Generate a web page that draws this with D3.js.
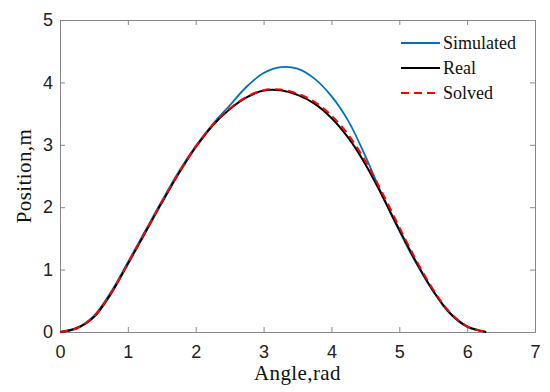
<!DOCTYPE html>
<html>
<head>
<meta charset="utf-8">
<script src="https://cdn.jsdelivr.net/npm/d3@7"></script>
<style>
  body { margin: 0; background: #fff; }
  .tick text { font-family: "Liberation Sans", Arial, sans-serif; font-size: 18px; fill: #222; }
  .serif { font-family: "Palatino Linotype", Palatino, "Book Antiqua", "Liberation Serif", serif; fill: #111; }
</style>
</head>
<body>
<div id="chart"></div>
<script>
// values
const xTicks = [0, 1, 2, 3, 4, 5, 6, 7];
const yTicks = [0, 1, 2, 3, 4, 5];

const angle = [0, 0.25, 0.5, 0.75, 1.0, 1.25, 1.5, 1.75, 2.0, 2.25, 2.5, 2.75, 3.0, 3.25, 3.5, 3.75, 4.0, 4.25, 4.5, 4.75, 5.0, 5.25, 5.5, 5.75, 6.0, 6.28];
const simulated = [0, 0.07, 0.26, 0.64, 1.12, 1.61, 2.10, 2.57, 2.98, 3.33, 3.63, 3.93, 4.15, 4.245, 4.22, 4.06, 3.78, 3.38, 2.82, 2.19, 1.62, 1.10, 0.65, 0.29, 0.08, 0];
const real = [0, 0.06, 0.24, 0.61, 1.09, 1.58, 2.07, 2.54, 2.96, 3.31, 3.57, 3.76, 3.87, 3.875, 3.80, 3.66, 3.43, 3.11, 2.69, 2.18, 1.64, 1.12, 0.66, 0.30, 0.09, 0];
const solved = [0, 0.06, 0.25, 0.62, 1.10, 1.59, 2.08, 2.55, 2.97, 3.32, 3.58, 3.77, 3.875, 3.885, 3.82, 3.69, 3.47, 3.16, 2.74, 2.23, 1.68, 1.15, 0.68, 0.31, 0.09, 0];

const seriesNames = ['Simulated', 'Real', 'Solved'];

const series = [
  { name: seriesNames[0], values: simulated, color: '#0072BD', width: 1.8, dash: null },
  { name: seriesNames[1], values: real, color: '#000000', width: 2, dash: null },
  { name: seriesNames[2], values: solved, color: '#FF0000', width: 2, dash: '8,5' },
];

const W = 550, H = 392;
const margin = { top: 20, right: 15, bottom: 60, left: 60 };
const width = W - margin.left - margin.right;
const height = H - margin.top - margin.bottom;

const svg = d3.select('#chart').append('svg')
  .attr('width', W).attr('height', H)
  .style('background', '#fff');

const g = svg.append('g').attr('transform', `translate(${margin.left},${margin.top})`);

const x = d3.scaleLinear().domain([0, 7]).range([0, width]);
const y = d3.scaleLinear().domain([0, 5]).range([height, 0]);

const axisColor = '#888';
const fmt = d3.format('d');

function styleAxis(sel) {
  sel.select('.domain').attr('stroke', axisColor);
  sel.selectAll('.tick line').attr('stroke', axisColor);
}

g.append('g')
  .attr('transform', `translate(0,${height})`)
  .call(d3.axisBottom(x).tickValues(xTicks).tickFormat(fmt).tickSize(-5).tickSizeOuter(0).tickPadding(13))
  .call(styleAxis);

g.append('g')
  .call(d3.axisLeft(y).tickValues(yTicks).tickFormat(fmt).tickSize(-5).tickSizeOuter(0).tickPadding(7))
  .call(styleAxis);

g.append('g')
  .call(d3.axisTop(x).tickValues(xTicks).tickSize(-5).tickSizeOuter(0).tickFormat(''))
  .call(styleAxis);

g.append('g')
  .attr('transform', `translate(${width},0)`)
  .call(d3.axisRight(y).tickValues(yTicks).tickSize(-5).tickSizeOuter(0).tickFormat(''))
  .call(styleAxis);

// curves
const line = d3.line()
  .x((d, i) => x(angle[i]))
  .y(d => y(d))
  .curve(d3.curveCatmullRom.alpha(0.5));

series.forEach(s => {
  g.append('path')
    .datum(s.values)
    .attr('fill', 'none')
    .attr('stroke', s.color)
    .attr('stroke-width', s.width)
    .attr('stroke-dasharray', s.dash)
    .attr('d', line);
});

// axis titles
svg.append('text')
  .attr('class', 'serif')
  .attr('x', margin.left + width / 2)
  .attr('y', 380)
  .attr('text-anchor', 'middle')
  .style('font-size', '21px')
  .style('letter-spacing', '0.4px')
  .text('Angle,rad');

svg.append('text')
  .attr('class', 'serif')
  .attr('transform', `translate(31,${margin.top + height / 2}) rotate(-90)`)
  .attr('text-anchor', 'middle')
  .style('font-size', '21px')
  .style('letter-spacing', '0.4px')
  .text('Position,m');

// legend
const legend = svg.append('g').attr('transform', 'translate(401,43)');
series.forEach((s, i) => {
  const row = legend.append('g').attr('transform', `translate(0,${i * 25})`);
  row.append('line')
    .attr('x1', 0).attr('x2', 39)
    .attr('stroke', s.color)
    .attr('stroke-width', s.width)
    .attr('stroke-dasharray', s.dash);
  row.append('text')
    .attr('class', 'serif')
    .attr('x', 42)
    .attr('dy', '0.33em')
    .style('font-size', '18px')
    .text(s.name);
});
</script>
</body>
</html>
